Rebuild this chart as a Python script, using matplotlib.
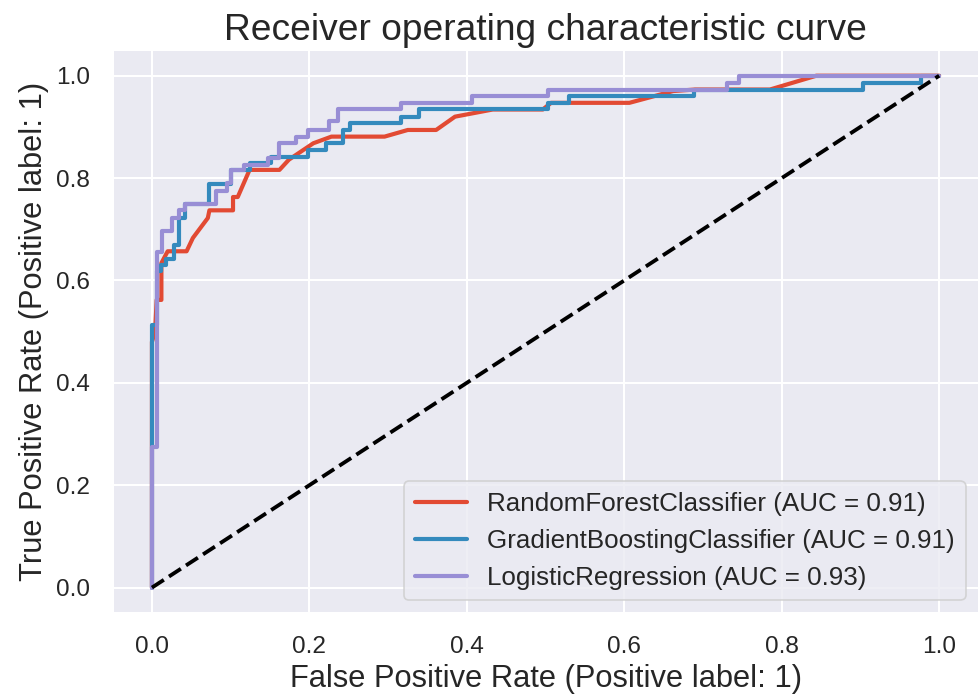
import matplotlib
matplotlib.use("Agg")
import matplotlib.pyplot as plt
import seaborn as sns

# ROC points
rf_fpr = [0, 0, 0.004, 0.006, 0.012, 0.012, 0.020, 0.044, 0.052, 0.071, 0.073, 0.103, 0.103,
          0.109, 0.124, 0.162, 0.174, 0.205, 0.228, 0.2955, 0.325, 0.361, 0.385, 0.433, 0.4965,
          0.507, 0.6065, 0.662, 0.69, 0.785, 0.844, 1.0]
rf_tpr = [0, 0.48, 0.50, 0.562, 0.562, 0.634, 0.657, 0.657, 0.683, 0.722, 0.737, 0.737, 0.763,
          0.763, 0.816, 0.816, 0.836, 0.868, 0.881, 0.881, 0.894, 0.894, 0.920, 0.934, 0.934,
          0.947, 0.947, 0.970, 0.973, 0.973, 1.0, 1.0]

gb_fpr = [0, 0, 0.006, 0.006, 0.011, 0.011, 0.018, 0.018, 0.028, 0.028, 0.034, 0.034, 0.042,
          0.042, 0.073, 0.073, 0.101, 0.101, 0.124, 0.124, 0.151, 0.151, 0.198, 0.198, 0.2215,
          0.2215, 0.2425, 0.2425, 0.251, 0.251, 0.317, 0.317, 0.339, 0.339, 0.503, 0.503, 0.530,
          0.530, 0.689, 0.689, 0.903, 0.903, 0.977, 0.977, 1.0]
gb_tpr = [0, 0.513, 0.513, 0.618, 0.618, 0.631, 0.631, 0.642, 0.642, 0.670, 0.670, 0.722, 0.722,
          0.750, 0.750, 0.789, 0.789, 0.816, 0.816, 0.829, 0.829, 0.842, 0.842, 0.855, 0.855,
          0.868, 0.868, 0.894, 0.894, 0.907, 0.907, 0.920, 0.920, 0.934, 0.934, 0.947, 0.947,
          0.960, 0.960, 0.973, 0.973, 0.986, 0.986, 1.0, 1.0]

lr_fpr = [0, 0, 0.006, 0.006, 0.0127, 0.0127, 0.025, 0.025, 0.034, 0.034, 0.042, 0.042, 0.082,
          0.082, 0.095, 0.095, 0.101, 0.101, 0.117, 0.117, 0.147, 0.147, 0.161, 0.161, 0.183,
          0.183, 0.198, 0.198, 0.225, 0.225, 0.236, 0.236, 0.317, 0.317, 0.406, 0.406, 0.503,
          0.503, 0.731, 0.731, 0.746, 0.746, 1.0]
lr_tpr = [0, 0.275, 0.275, 0.656, 0.656, 0.696, 0.696, 0.722, 0.722, 0.738, 0.738, 0.750, 0.750,
          0.774, 0.774, 0.790, 0.790, 0.816, 0.816, 0.826, 0.826, 0.839, 0.839, 0.868, 0.868,
          0.881, 0.881, 0.894, 0.894, 0.911, 0.911, 0.934, 0.934, 0.947, 0.947, 0.960, 0.960,
          0.973, 0.973, 0.986, 0.986, 1.0, 1.0]

names = ["RandomForestClassifier", "GradientBoostingClassifier", "LogisticRegression"]
aucs = [0.91, 0.91, 0.93]
colors = ["#E24A33", "#348ABD", "#988ED5"]

sns.set_theme(style="darkgrid", rc={"grid.linewidth": 1.2})
plt.rcParams['font.family'] = ['Liberation Sans', 'DejaVu Sans']

fig, ax = plt.subplots(figsize=(979 / 120, 696 / 120), dpi=120)
fig.subplots_adjust(left=0.115, right=0.9995, top=0.928, bottom=0.119)

curves = [(rf_fpr, rf_tpr), (gb_fpr, gb_tpr), (lr_fpr, lr_tpr)]
for (fpr, tpr), name, auc, c in zip(curves, names, aucs, colors):
    ax.plot(fpr, tpr, color=c, lw=2.5, label=f"{name} (AUC = {auc:.2f})")

ax.plot([0, 1], [0, 1], color="black", lw=2.3, linestyle="--")

ax.set_xlim(-0.05, 1.05)
ax.set_ylim(-0.05, 1.05)
ax.set_xlabel("False Positive Rate (Positive label: 1)", fontsize=18.5)
ax.set_ylabel("True Positive Rate (Positive label: 1)", fontsize=18.5)
ax.set_title("Receiver operating characteristic curve", fontsize=22.3)
ax.tick_params(labelsize=14.6, pad=7.5)
ax.legend(loc="lower right", fontsize=15.6)

fig.savefig("out.png", dpi=120)
